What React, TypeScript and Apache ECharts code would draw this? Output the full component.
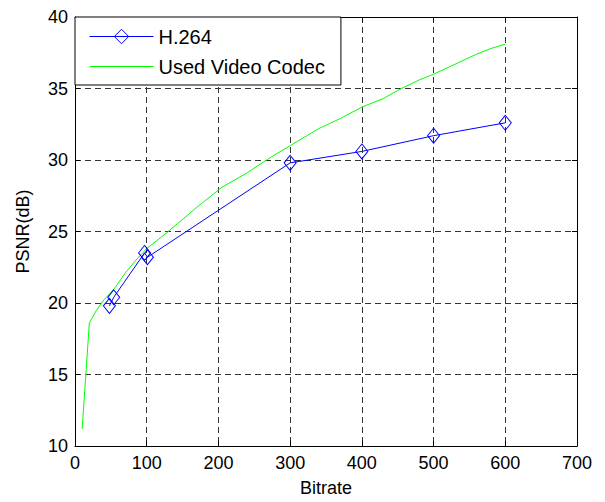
import React, { useEffect, useRef } from "react";
import * as echarts from "echarts";

const h264X = [48, 54, 97, 101, 300, 400, 500, 600];
const h264Y = [19.8, 20.4, 23.5, 23.2, 29.8, 30.6, 31.7, 32.6];

const codecX = [10, 20, 30, 40, 55, 70, 85, 100, 130, 170, 205, 240, 270, 300, 340, 370, 400, 430, 455, 480, 500, 530, 560, 580, 600];
const codecY = [11.2, 18.6, 19.5, 20.2, 21.0, 22.1, 23.0, 23.8, 25.0, 26.7, 28.1, 29.1, 30.1, 31.0, 32.2, 32.9, 33.7, 34.3, 35.0, 35.6, 36.0, 36.7, 37.4, 37.8, 38.1];

const seriesNames = ["H.264", "Used Video Codec"];
const xTitle = "Bitrate";
const yTitle = "PSNR(dB)";

const FONT = "'Liberation Sans', Arial, Helvetica, sans-serif";
const FS = 18;

export default function App() {
  const ref = useRef<HTMLDivElement>(null);
  useEffect(() => {
    if (!ref.current) return;
    const chart = echarts.init(ref.current, undefined, { renderer: "svg" });
    const axisCommon = {
      min: 0,
      max: 700,
      interval: 100,
      axisLine: { show: true, onZero: false, lineStyle: { color: "#000", width: 1 } },
      axisTick: { show: true, inside: true, length: 5, lineStyle: { color: "#000" } },
    };
    const yCommon = {
      min: 10,
      max: 40,
      interval: 5,
      axisLine: { show: true, onZero: false, lineStyle: { color: "#000", width: 1 } },
      axisTick: { show: true, inside: true, length: 5, lineStyle: { color: "#000" } },
    };
    chart.setOption({
      animation: false,
      backgroundColor: "#fff",
      textStyle: { fontFamily: FONT },
      grid: { left: 75, right: 28, top: 17, bottom: 55, containLabel: false },
      legend: {
        show: true,
        orient: "vertical",
        left: 75,
        top: 17,
        backgroundColor: "#fff",
        borderColor: "#000",
        borderWidth: 1,
        padding: [9, 16, 8, 14],
        itemWidth: 64,
        itemHeight: 18,
        itemGap: 9,
        lineStyle: { width: 1 },
        itemStyle: { borderWidth: 1 },
        textStyle: { fontFamily: FONT, fontSize: 20, color: "#000", lineHeight: 21 },
        data: [
          { name: seriesNames[0] },
          {
            name: seriesNames[1],
            itemStyle: { color: "rgba(0,0,0,0)", borderWidth: 0, opacity: 0 },
          },
        ],
      },
      xAxis: [
        {
          type: "value",
          position: "bottom",
          ...axisCommon,
          name: xTitle,
          nameLocation: "middle",
          nameGap: 33,
          nameTextStyle: { fontFamily: FONT, fontSize: FS, color: "#000" },
          axisLabel: { show: true, margin: 8, fontFamily: FONT, fontSize: FS, color: "#000" },
          splitLine: { show: true, lineStyle: { color: "#333", type: [6, 4], width: 1 } },
        },
        {
          type: "value",
          position: "top",
          ...axisCommon,
          axisLabel: { show: false },
          splitLine: { show: false },
        },
      ],
      yAxis: [
        {
          type: "value",
          position: "left",
          ...yCommon,
          name: yTitle,
          nameLocation: "middle",
          nameGap: 43,
          nameTextStyle: { fontFamily: FONT, fontSize: FS, color: "#000" },
          axisLabel: { show: true, margin: 7, fontFamily: FONT, fontSize: FS, color: "#000" },
          splitLine: { show: true, lineStyle: { color: "#333", type: [6, 4], width: 1 } },
        },
        {
          type: "value",
          position: "right",
          ...yCommon,
          axisLabel: { show: false },
          splitLine: { show: false },
        },
      ],
      series: [
        {
          name: seriesNames[0],
          type: "line",
          xAxisIndex: 0,
          yAxisIndex: 0,
          data: h264X.map((x, i) => [x, h264Y[i]]),
          symbol: "diamond",
          symbolSize: [12, 15],
          showAllSymbol: true,
          lineStyle: { color: "#0000ff", width: 1 },
          itemStyle: { color: "rgba(0,0,0,0)", borderColor: "#0000ff", borderWidth: 1 },
          z: 3,
        },
        {
          name: seriesNames[1],
          type: "line",
          xAxisIndex: 0,
          yAxisIndex: 0,
          data: codecX.map((x, i) => [x, codecY[i]]),
          symbol: "none",
          showSymbol: false,
          lineStyle: { color: "#00ff00", width: 1 },
          itemStyle: { color: "#00ff00" },
          z: 2,
        },
      ],
    });
    return () => chart.dispose();
  }, []);
  return (
    <div
      ref={ref}
      style={{ position: "fixed", left: 0, top: 0, width: 605, height: 502, background: "#fff" }}
    />
  );
}
